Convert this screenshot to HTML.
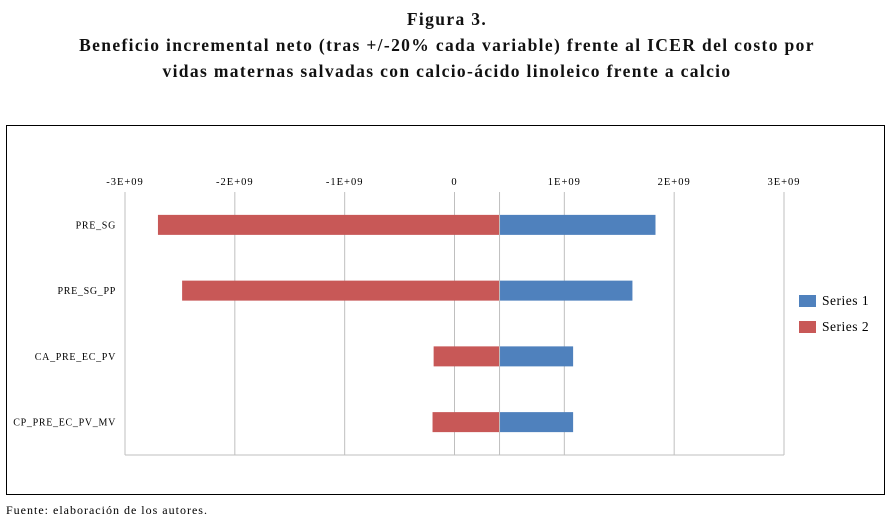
<!DOCTYPE html>
<html><head><meta charset="utf-8"><style>
body{margin:0;background:#fff;width:894px;height:523px;overflow:hidden;font-family:"Liberation Serif",serif;}
.t{position:absolute;left:0;width:894px;text-align:center;font-weight:bold;font-size:17.5px;color:#111;letter-spacing:1.35px;}
</style></head><body>
<div class="t" style="top:9px">Figura 3.</div>
<div class="t" style="top:35px">Beneficio incremental neto (tras +/-20% cada variable) frente al ICER del costo por</div>
<div class="t" style="top:61px">vidas maternas salvadas con calcio-ácido linoleico frente a calcio</div>
<svg width="894" height="523" style="position:absolute;left:0;top:0" id="c">
<rect x="6.5" y="125.5" width="878" height="369" fill="none" stroke="#000" stroke-width="1"/>
<g id="g"></g>
<rect x="799" y="295" width="17" height="12" fill="#4f81bd"/>
<text x="822" y="305" font-size="13.5" letter-spacing="0.5" font-family="Liberation Serif">Series 1</text>
<rect x="799" y="321" width="17" height="12" fill="#c85857"/>
<text x="822" y="331" font-size="13.5" letter-spacing="0.5" font-family="Liberation Serif">Series 2</text>
</svg>
<div style="position:absolute;left:6px;top:503px;font-size:12px;letter-spacing:1px;">Fuente: elaboración de los autores.</div>
<script>
const categories=["PRE_SG","PRE_SG_PP","CA_PRE_EC_PV","CP_PRE_EC_PV_MV"];
const baseValue=0.41e9;
const series1=[1.83e9,1.62e9,1.08e9,1.08e9];
const series2=[-2.7e9,-2.48e9,-0.19e9,-0.2e9];
const ticks=[-3e9,-2e9,-1e9,0,1e9,2e9,3e9];
const tickLabels=["-3E+09","-2E+09","-1E+09","0","1E+09","2E+09","3E+09"];
const L=125,R=784,T=192,B=455;
const x=v=>L+(v-ticks[0])/(ticks[ticks.length-1]-ticks[0])*(R-L);
const band=(B-T)/categories.length;
const yc=i=>T+band*(i+0.5);
const g=document.getElementById('g');const NS="http://www.w3.org/2000/svg";
function mk(t,a){const e=document.createElementNS(NS,t);for(const k in a)e.setAttribute(k,a[k]);g.appendChild(e);return e;}
ticks.forEach((t,i)=>{
 const l=mk('line',{x1:x(t),x2:x(t),y1:T,y2:B,stroke:'#bfbfbf','stroke-width':1});
 
 
 const tx=mk('text',{x:x(t),y:185,'text-anchor':'middle','font-size':10.5,'letter-spacing':1,'font-family':'Liberation Serif'});
 tx.textContent=tickLabels[i];
 
 
});
const bl=mk('line',{x1:L,x2:R,y1:B,y2:B,stroke:'#bfbfbf'});


categories.forEach((c,i)=>{
 const h=20,y=yc(i)-h/2;
 const r2=mk('rect',{x:x(series2[i]),y:y,width:x(baseValue)-x(series2[i]),height:h,fill:'#c85857'});
 
 
 const r1=mk('rect',{x:x(baseValue),y:y,width:x(series1[i])-x(baseValue),height:h,fill:'#4f81bd'});
 
 
 const tx=mk('text',{x:116,y:yc(i)+3.5,'text-anchor':'end','font-size':10,'letter-spacing':0.7,'font-family':'Liberation Serif'});
 tx.textContent=c;
 
 
});
const ax=mk('line',{x1:x(baseValue),x2:x(baseValue),y1:T,y2:B,stroke:'#bfbfbf'});


</script>
</body></html>
